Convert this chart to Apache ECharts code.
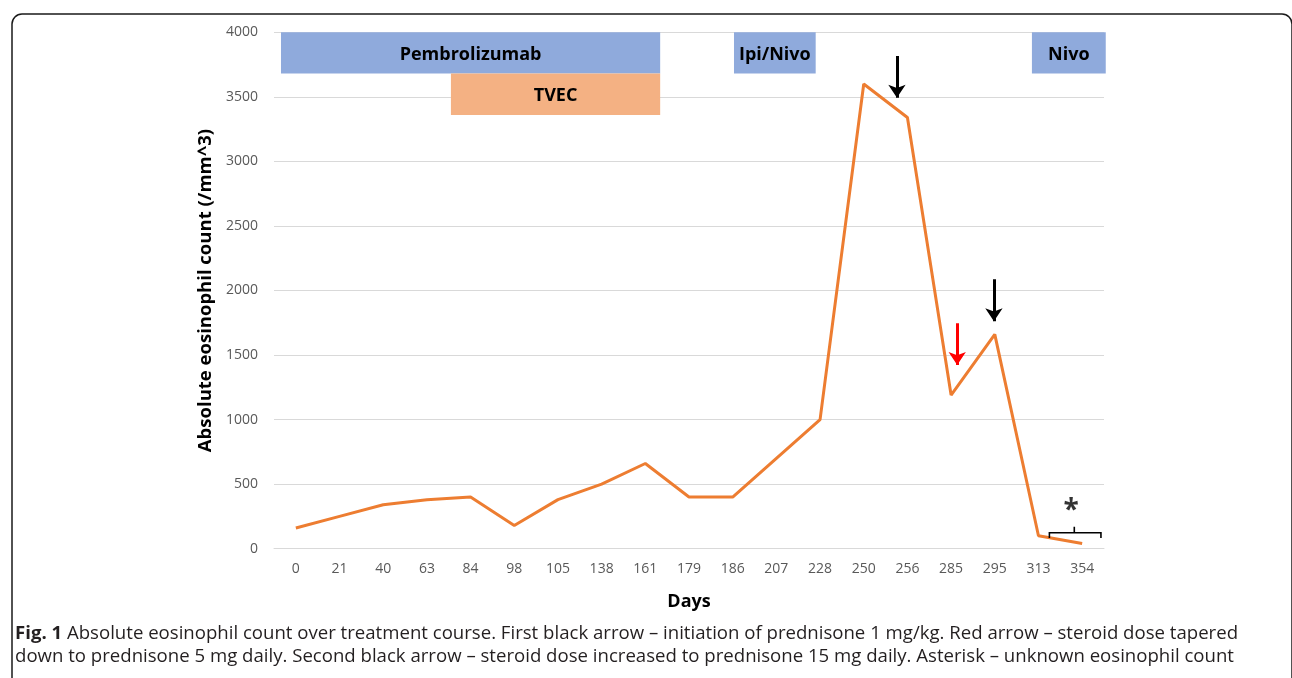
<!DOCTYPE html>
<html><head><meta charset="utf-8">
<script src="https://cdn.jsdelivr.net/npm/echarts@6/dist/echarts.min.js"></script>
<style>html,body{margin:0;padding:0;background:#fff}#c{width:1292px;height:678px}</style>
</head><body><div id="c"></div>
<script>
const days = ['0','21','40','63','84','98','105','138','161','179','186','207','228','250','256','285','295','313','354'];
const eosinophils = [160,250,340,380,400,180,380,500,660,400,400,700,1000,3600,3340,1190,1660,100,40];
const yTicks = {min:0, max:4000, interval:500};
// treatment bars: [startSlot, endSlot, low, high, label, color]
const treatments = [
  [0.16, 8.84, 3680, 4000, 'Pembrolizumab', '#8faadc'],
  [4.05, 8.84, 3360, 3680, 'TVEC', '#f4b183'],
  [10.53, 12.4, 3680, 4000, 'Ipi/Nivo', '#8faadc'],
  [17.35, 19.04, 3680, 4000, 'Nivo', '#8faadc']
];
// arrows: [slot, fromValue, toValue, color]
const arrows = [
  [14.26, 3816, 3493, '#000000'],
  [15.64, 1746, 1423, '#ff0000'],
  [16.48, 2087, 1762, '#000000']
];
const bracket = [[17.75,83],[17.75,124],[18.93,124],[18.93,83]];
const bracketTick = [[18.32,124],[18.32,170]];
const asterisk = [18.25, 290];
const caption = [
  '{b|Fig. 1} Absolute eosinophil count over treatment course. First black arrow – initiation of prednisone 1 mg/kg. Red arrow – steroid dose tapered',
  'down to prednisone 5 mg daily. Second black arrow – steroid dose increased to prednisone 15 mg daily. Asterisk – unknown eosinophil count'
];

const chart = echarts.init(document.getElementById('c'), null, {renderer:'canvas'});
const FONT = 'Open Sans';
const captionFont = 'Open Sans';
const CAP = 18.6;
chart.setOption({
  animation:false,
  backgroundColor:'#ffffff',
  grid:{left:274, right:188, top:32.3, bottom:129.3, containLabel:false},
  xAxis:[
    {type:'category', data:days, boundaryGap:true,
     axisLine:{show:true, lineStyle:{color:'#d9d9d9', width:1}}, axisTick:{show:false},
     axisLabel:{color:'#595959', fontSize:14, fontFamily:FONT, margin:13, interval:0},
     name:'Days', nameLocation:'middle', nameGap:44,
     nameTextStyle:{fontSize:18, fontWeight:'bold', color:'#000', fontFamily:FONT}},
    {type:'value', min:0, max:19, show:false}
  ],
  yAxis:[
    {type:'value', min:yTicks.min, max:yTicks.max, interval:yTicks.interval,
     axisLine:{show:false}, axisTick:{show:false},
     splitLine:{lineStyle:{color:'#d9d9d9', width:1}},
     axisLabel:{color:'#595959', fontSize:14, fontFamily:FONT, margin:16, formatter:v=>String(v)},
     name:'Absolute eosinophil count (/mm^3)', nameLocation:'middle', nameGap:53,
     nameTextStyle:{fontSize:18.5, fontWeight:'bold', color:'#000', fontFamily:FONT}},
    {type:'value', min:yTicks.min, max:yTicks.max, show:false}
  ],
  series:[
    {type:'line', data:eosinophils, showSymbol:false, symbol:'none',
     lineStyle:{color:'#ed7d31', width:3}, z:3},
    {type:'custom', xAxisIndex:1, yAxisIndex:1, clip:false, z:2,
     data:treatments.map(t=>[t[0],t[1],t[2],t[3]]),
     renderItem:function(params, api){
       const t = treatments[params.dataIndex];
       const p0 = api.coord([api.value(0), api.value(3)]);
       const p1 = api.coord([api.value(1), api.value(2)]);
       return {type:'group', children:[
         {type:'rect', shape:{x:p0[0], y:p0[1], width:p1[0]-p0[0], height:p1[1]-p0[1]}, style:{fill:t[5]}},
         {type:'text', x:(p0[0]+p1[0])/2, y:(p0[1]+p1[1])/2 + 2,
          style:{text:t[4], fill:'#000', font:'bold 18px "'+FONT+'"', align:'center', verticalAlign:'middle'}}
       ]};
     }},
    {type:'lines', coordinateSystem:'cartesian2d', xAxisIndex:1, yAxisIndex:1, z:4,
     symbol:['none','arrow'], symbolSize:[0,13],
     data:arrows.map(a=>({coords:[[a[0],a[1]],[a[0],a[2]]], lineStyle:{color:a[3], width:3, opacity:1}}))},
    {type:'lines', coordinateSystem:'cartesian2d', xAxisIndex:1, yAxisIndex:1, z:4, polyline:true,
     symbol:'none', lineStyle:{color:'#000', width:1.6, opacity:1},
     data:[{coords:bracket},{coords:bracketTick}]},
    {type:'scatter', xAxisIndex:1, yAxisIndex:1, z:4, symbolSize:1, itemStyle:{color:'rgba(0,0,0,0)'},
     data:[asterisk],
     label:{show:true, position:'inside', formatter:'*', fontSize:28, fontWeight:'bold', color:'#000', fontFamily:FONT}}
  ],
  graphic:[
    {type:'rect', left:9.5, top:11.5, shape:{x:0,y:0,width:1280,height:720,r:10},
     style:{fill:'none', stroke:'#1a1a1a', lineWidth:1.5}, z:0, silent:true},
    ...caption.map((line,i)=>({type:'text', x:15, y:624+i*23.5, z:10,
      style:{text:line, fill:'#231f20', font:CAP+'px "'+captionFont+'"',
        rich:{b:{fontWeight:'bold', fontSize:CAP, fontFamily:captionFont, fill:'#231f20'}}}}))
  ]
});
</script></body></html>
